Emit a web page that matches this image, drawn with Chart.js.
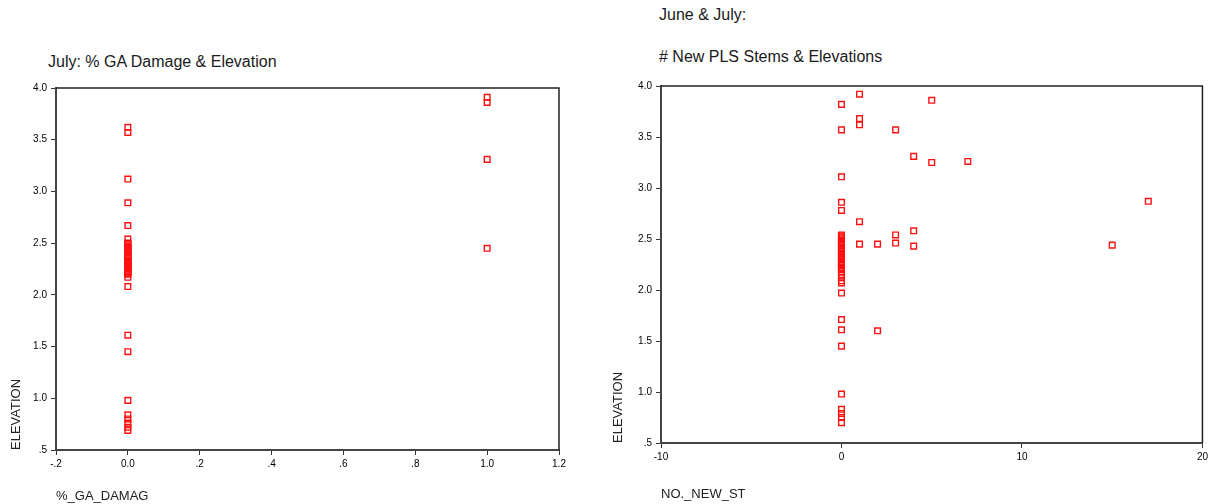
<!DOCTYPE html>
<html>
<head>
<meta charset="utf-8">
<script src="https://cdn.jsdelivr.net/npm/chart.js@4.4.0/dist/chart.umd.min.js"></script>
<style>
  body { margin: 0; background: #fff; width: 1211px; height: 504px; overflow: hidden; position: relative; font-family: "Liberation Sans", Arial, sans-serif; }
  .titulo { position: absolute; font-size: 16px; line-height: 18px; color: #1a1a1a; white-space: nowrap; }
  canvas { position: absolute; top: 0; }
</style>
</head>
<body>
<div class="titulo" style="left:48px;top:53px">July: % GA Damage &amp; Elevation</div>
<div class="titulo" style="left:659px;top:6px">June &amp; July:</div>
<div class="titulo" style="left:659px;top:48px"># New PLS Stems &amp; Elevations</div>
<canvas id="graficaDano" width="590" height="504" style="left:0"></canvas>
<canvas id="graficaTallos" width="611" height="504" style="left:600px"></canvas>
<script>
// Julio: % GA damage contra elevacion
var danoX = [0, 0, 0, 0, 0, 0,
    0, 0, 0, 0, 0, 0, 0, 0, 0, 0, 0, 0, 0, 0, 0, 0, 0, 0, 0, 0, 0, 0, 0, 0, 0, 0,
    0, 0, 0, 0, 0, 0, 0, 0, 0, 0, 0,
    1, 1, 1, 1];
var danoElev = [3.62, 3.57, 3.12, 2.89, 2.67, 2.54,
    2.50, 2.49, 2.47, 2.46, 2.45, 2.43, 2.42, 2.41, 2.39, 2.38, 2.37, 2.36, 2.34, 2.33, 2.32, 2.31,
    2.30, 2.29, 2.28, 2.27, 2.26, 2.25, 2.24, 2.23, 2.22, 2.21,
    2.20, 2.17, 2.08, 1.61, 1.45, 0.98, 0.84, 0.80, 0.76, 0.72, 0.69,
    3.91, 3.86, 3.31, 2.45];

// Junio y julio: # nuevos tallos PLS contra elevacion
var tallosX = [0, 0, 0, 0, 0, 0,
    0, 0, 0, 0, 0, 0, 0, 0, 0, 0, 0, 0, 0, 0, 0, 0, 0, 0, 0, 0, 0, 0, 0, 0, 0, 0, 0, 0, 0,
    0, 0, 0, 0, 0, 0, 0, 0, 0, 0, 0, 0, 0, 0,
    1, 1, 1, 1, 1,
    2, 2,
    3, 3, 3,
    4, 4, 4,
    5, 5,
    7, 15, 17];
var tallosElev = [3.82, 3.57, 3.11, 2.86, 2.78, 2.54,
    2.53, 2.52, 2.51, 2.50, 2.48, 2.47, 2.46, 2.45, 2.44, 2.42, 2.41, 2.40, 2.39, 2.38, 2.36, 2.35,
    2.34, 2.33, 2.32, 2.31, 2.30, 2.28, 2.27, 2.26, 2.25, 2.24, 2.22, 2.21, 2.20,
    2.18, 2.15, 2.12, 2.09, 2.07, 1.97, 1.71, 1.61, 1.45, 0.98, 0.83, 0.79, 0.75, 0.70,
    3.92, 3.68, 3.62, 2.67, 2.45,
    2.45, 1.60,
    3.57, 2.54, 2.46,
    3.31, 2.58, 2.43,
    3.86, 3.25,
    3.26, 2.44, 2.87];

// Etiquetas de los ejes
var ticksDanoX = ['-.2', '0.0', '.2', '.4', '.6', '.8', '1.0', '1.2'];
var ticksTallosX = ['-10', '0', '10', '20'];
var ticksElev = ['.5', '1.0', '1.5', '2.0', '2.5', '3.0', '3.5', '4.0'];

var rojo = '#ff1010';
var fuente = '"Liberation Sans", Arial, sans-serif';

// marco superior y derecho del area de la grafica
var marco = {
    id: 'marco',
    afterDraw: function(chart) {
        var a = chart.chartArea, ctx = chart.ctx;
        ctx.save();
        ctx.strokeStyle = '#222';
        ctx.lineWidth = 1.5;
        ctx.beginPath();
        ctx.moveTo(a.left, a.top);
        ctx.lineTo(a.right, a.top);
        ctx.lineTo(a.right, a.bottom);
        ctx.stroke();
        ctx.restore();
    }
};

function puntos(xs, ys) {
    return xs.map(function(x, i) { return {x: x, y: ys[i]}; });
}

function configurar(datos, ejeX, ejeY, caja) {
    return {
        type: 'scatter',
        data: {
            datasets: [{
                data: datos,
                pointStyle: 'rect',
                pointRadius: 4,
                pointHoverRadius: 4,
                borderWidth: 1.4,
                borderColor: rojo,
                backgroundColor: 'rgba(0,0,0,0)'
            }]
        },
        options: {
            responsive: false,
            animation: false,
            events: [],
            layout: { padding: caja.padding },
            plugins: { legend: { display: false }, tooltip: { enabled: false } },
            scales: {
                x: {
                    type: 'linear',
                    min: ejeX.min,
                    max: ejeX.max,
                    afterFit: function(s) { s.height = caja.altoX; },
                    border: { display: true, color: '#444', width: 2 },
                    grid: { drawOnChartArea: false, drawTicks: true, tickLength: 5, color: '#333' },
                    ticks: {
                        stepSize: ejeX.paso,
                        padding: 3,
                        color: '#000',
                        font: { family: fuente, size: 10 },
                        maxRotation: 0,
                        callback: function(v, i) { return ejeX.etiquetas[i]; }
                    },
                    title: {
                        display: true,
                        text: ejeX.titulo,
                        align: 'start',
                        color: '#222',
                        font: { family: fuente, size: 13 },
                        padding: { top: 0, bottom: caja.padTituloX }
                    }
                },
                y: {
                    type: 'linear',
                    min: 0.5,
                    max: 4.0,
                    afterFit: function(s) { s.width = caja.anchoY; },
                    border: { display: true, color: '#444', width: 2 },
                    grid: { drawOnChartArea: false, drawTicks: true, tickLength: 5, color: '#333' },
                    ticks: {
                        stepSize: 0.5,
                        padding: 4,
                        color: '#000',
                        font: { family: fuente, size: 10 },
                        callback: function(v, i) { return ejeY.etiquetas[i]; }
                    },
                    title: {
                        display: true,
                        text: 'ELEVATION',
                        align: 'start',
                        color: '#222',
                        font: { family: fuente, size: 13 },
                        padding: { top: caja.padTituloY, bottom: 0 }
                    }
                }
            }
        },
        plugins: [marco]
    };
}

window.onload = function() {
    var ctx1 = document.getElementById('graficaDano').getContext('2d');
    window.graficaDano = new Chart(ctx1, configurar(
        puntos(danoX, danoElev),
        { min: -0.2, max: 1.2, paso: 0.2, etiquetas: ticksDanoX, titulo: '%_GA_DAMAG' },
        { etiquetas: ticksElev },
        { padding: { top: 88, right: 31, bottom: 0, left: 0 }, anchoY: 56, altoX: 54, padTituloX: 0, padTituloY: 9 }
    ));

    var ctx2 = document.getElementById('graficaTallos').getContext('2d');
    window.graficaTallos = new Chart(ctx2, configurar(
        puntos(tallosX, tallosElev),
        { min: -10, max: 20, paso: 10, etiquetas: ticksTallosX, titulo: 'NO._NEW_ST' },
        { etiquetas: ticksElev },
        { padding: { top: 86, right: 6, bottom: 0, left: 0 }, anchoY: 61, altoX: 61, padTituloX: 2, padTituloY: 11 }
    ));
};
</script>
</body>
</html>
